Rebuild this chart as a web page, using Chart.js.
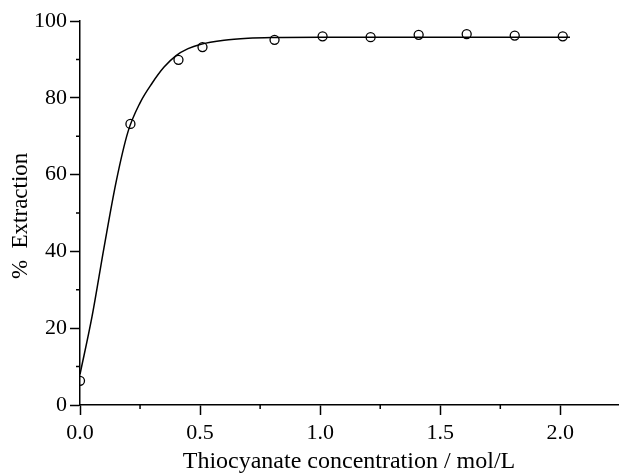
<!DOCTYPE html>
<html lang="en">
  <head>
    <meta charset="UTF-8" />
    <title>% Extraction vs Thiocyanate</title>
    <style>
      html, body { margin: 0; padding: 0; background: #fff; overflow: hidden; }
      .chart-container { width: 619px; height: 476px; }
    </style>
    <script src="https://cdn.jsdelivr.net/npm/chart.js"></script>
  </head>
  <body>
    <div class="chart-container">
      <canvas id="extChart" width="619" height="476"></canvas>
    </div>
    <script>
      // measured points
      var concX = [0, 0.21, 0.41, 0.51, 0.81, 1.01, 1.21, 1.41, 1.61, 1.81, 2.01];
      var extractY = [6.3, 73.2, 89.9, 93.2, 95.1, 96.0, 95.8, 96.4, 96.6, 96.2, 96.0];

      // fitted curve
      var fitX = [0, 0.05, 0.1, 0.15, 0.2, 0.25, 0.3, 0.35, 0.4, 0.45, 0.5, 0.6, 0.7, 0.8, 1.0, 1.5, 2.04];
      var fitY = [8, 23, 41, 58, 71.2, 78.7, 83.8, 88.0, 91.0, 92.8, 93.9, 95.0, 95.5, 95.7, 95.8, 95.8, 95.8];

      var xMinorTicks = [0.25, 0.75, 1.25, 1.75];
      var yMinorTicks = [10, 30, 50, 70, 90];

      var fontFamily = "'Liberation Serif', 'Times New Roman', serif";

      var minorTicks = {
        id: "minorTicks",
        afterDraw: function (chart) {
          var ctx = chart.ctx;
          var xs = chart.scales.x;
          var ys = chart.scales.y;
          ctx.save();
          ctx.strokeStyle = "#000";
          ctx.lineWidth = 1.5;
          ctx.beginPath();
          xMinorTicks.forEach(function (v) {
            var px = xs.getPixelForValue(v);
            ctx.moveTo(px, chart.chartArea.bottom);
            ctx.lineTo(px, chart.chartArea.bottom + 4);
          });
          yMinorTicks.forEach(function (v) {
            var py = ys.getPixelForValue(v);
            ctx.moveTo(chart.chartArea.left, py);
            ctx.lineTo(chart.chartArea.left - 4, py);
          });
          ctx.stroke();
          ctx.restore();
        },
      };

      var ctx = document.getElementById("extChart").getContext("2d");
      var extChart = new Chart(ctx, {
        type: "scatter",
        data: {
          datasets: [
            {
              label: "fit",
              data: fitX.map(function (x, i) { return { x: x, y: fitY[i] }; }),
              showLine: true,
              borderColor: "#000",
              borderWidth: 1.5,
              pointRadius: 0,
              cubicInterpolationMode: "monotone",
              fill: false,
            },
            {
              label: "% Extraction",
              data: concX.map(function (x, i) { return { x: x, y: extractY[i] }; }),
              showLine: false,
              pointRadius: 4.5,
              pointBorderWidth: 1.3,
              pointBorderColor: "#000",
              pointBackgroundColor: "rgba(0,0,0,0)",
            },
          ],
        },
        options: {
          responsive: false,
          animation: false,
          layout: { autoPadding: false, padding: { top: 21, right: 1, left: 0, bottom: 0 } },
          plugins: {
            legend: { display: false },
            tooltip: { enabled: false },
          },
          scales: {
            x: {
              type: "linear",
              min: 0,
              max: 2.24,
              border: { color: "#000", width: 1.5 },
              grid: { drawOnChartArea: false, drawTicks: true, tickLength: 10, color: "#000", tickWidth: 1.5 },
              ticks: {
                stepSize: 0.5,
                includeBounds: false,
                color: "#000",
                padding: 5,
                font: { family: fontFamily, size: 22 },
                callback: function (v) { return v.toFixed(1); },
              },
              title: {
                display: true,
                text: "Thiocyanate concentration / mol/L",
                color: "#000",
                font: { family: fontFamily, size: 24 },
                padding: { top: 2, bottom: 0 },
              },
              afterFit: function (scale) {
                scale.height = 71;
                scale.paddingLeft = 0;
                scale.paddingRight = 0;
              },
            },
            y: {
              min: 0,
              max: 100,
              border: { color: "#000", width: 1.5 },
              grid: { drawOnChartArea: false, drawTicks: true, tickLength: 10, color: "#000", tickWidth: 1.5 },
              ticks: {
                stepSize: 20,
                color: "#000",
                padding: 3,
                font: { family: fontFamily, size: 22 },
              },
              title: {
                display: true,
                text: "%  Extraction ",
                color: "#000",
                font: { family: fontFamily, size: 23 },
                padding: { top: 7, bottom: 0 },
              },
              afterFit: function (scale) {
                scale.width = 80;
                scale.paddingTop = 0;
                scale.paddingBottom = 0;
              },
            },
          },
        },
        plugins: [minorTicks],
      });
    </script>
  </body>
</html>
